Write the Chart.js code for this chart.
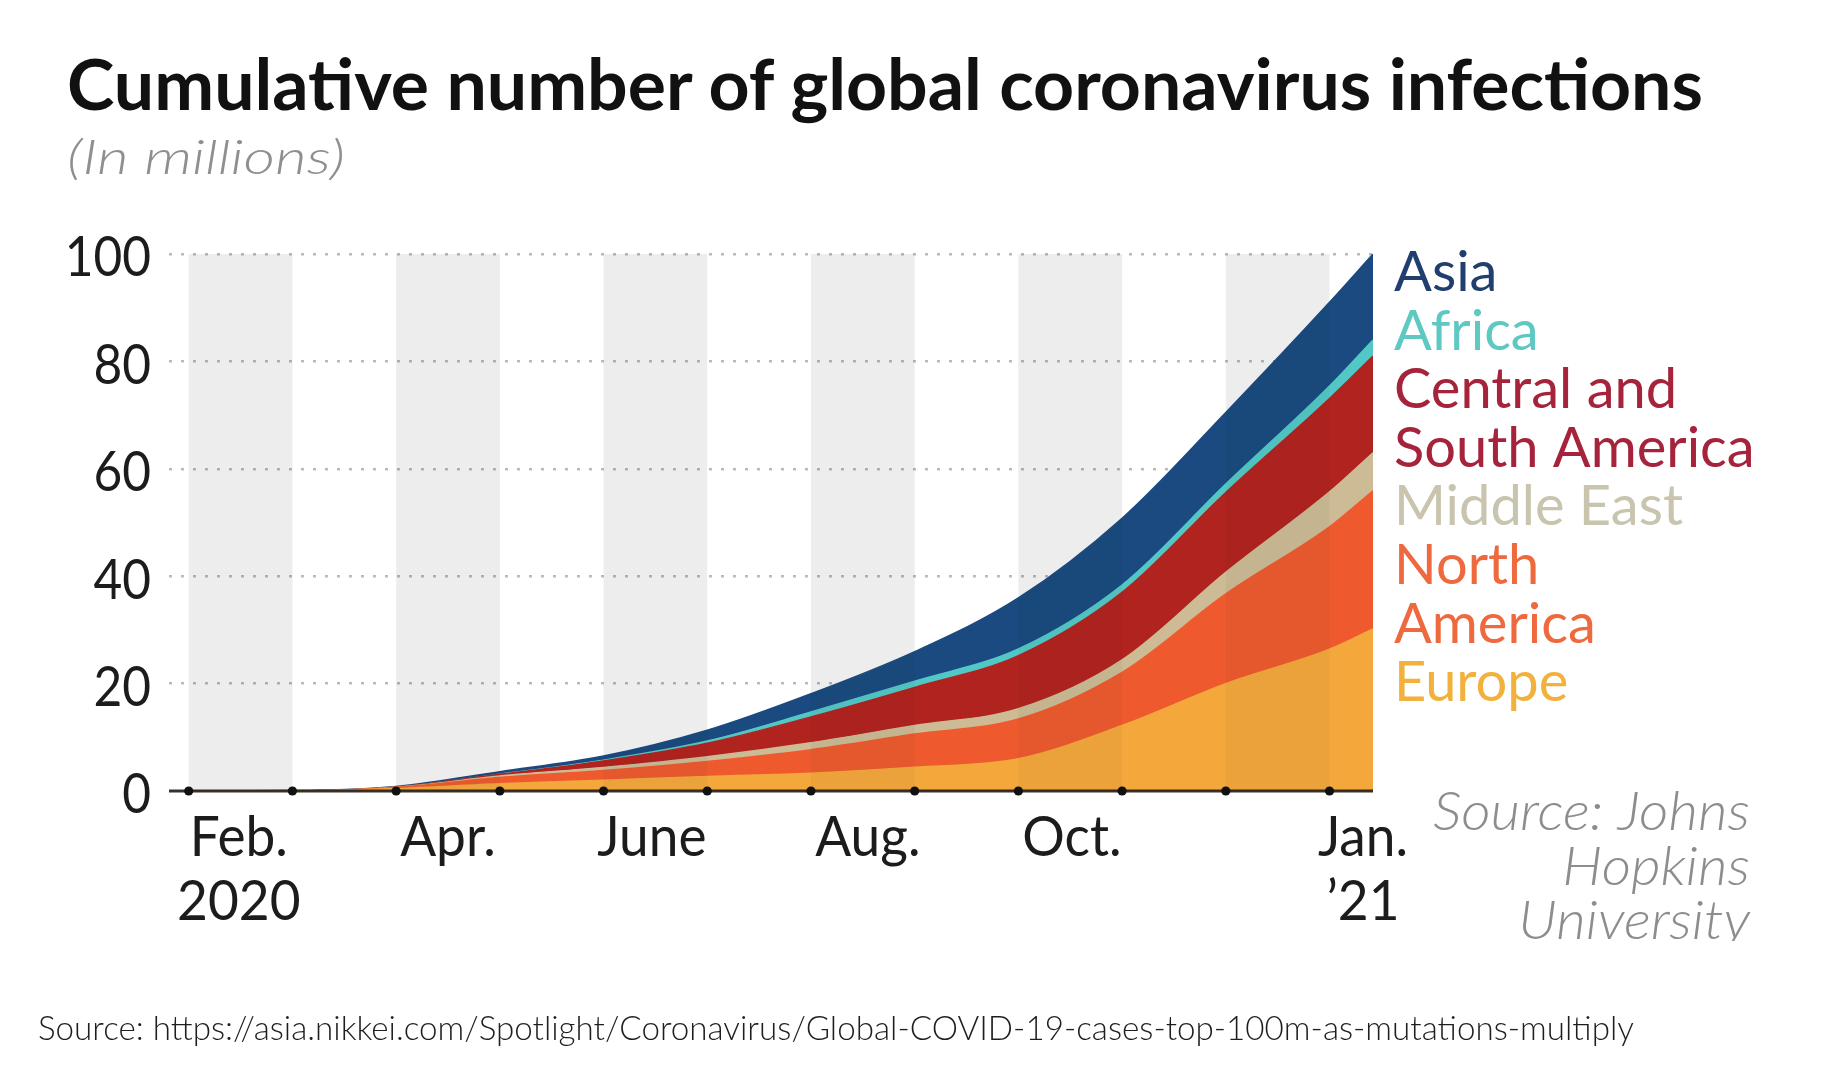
<!DOCTYPE html>
<html>
<head>
<meta charset="utf-8">
<script src="https://cdn.jsdelivr.net/npm/chart.js@4.4.1/dist/chart.umd.min.js"></script>
<style>
  html, body { margin: 0; padding: 0; background: #fff; }
  body { width: 1827px; height: 1080px; position: relative; overflow: hidden; font-family: Lato, 'Open Sans', sans-serif; }
  #chart { position: absolute; left: 0; top: 0; }
  .txt { position: absolute; line-height: 1; white-space: nowrap; transform-origin: 0 0; }
  .title { left: 67px; top: 48px; font-size: 70px; font-weight: 700; color: #111; }
  .subtitle { left: 67px; top: 132px; font-size: 48px; font-weight: 300; font-style: italic; color: #8f8f8f; }
  .footnote { left: 38px; top: 1010px; font-size: 34px; font-weight: 300; color: #1e1e1e; }
</style>
</head>
<body>
<canvas id="chart" width="1827" height="1080"></canvas>
<div class="txt title" data-w="1636">Cumulative number of global coronavirus infections</div>
<div class="txt subtitle" data-w="278">(In millions)</div>
<div class="txt footnote" data-w="1596">Source: https://asia.nikkei.com/Spotlight/Coronavirus/Global-COVID-19-cases-top-100m-as-mutations-multiply</div>
<script>
(function () {
// ── Data (millions) ─────────────────────────────────────────
const dates = [
  '2020-02-01', '2020-03-01', '2020-04-01', '2020-05-01', '2020-06-01', '2020-07-01', '2020-08-01',
  '2020-09-01', '2020-10-01', '2020-11-01', '2020-12-01', '2021-01-01', '2021-01-14',
];

// one band per region, stacked bottom -> top
const europe              = [0, 0.002, 0.45, 1.35, 2.0, 2.7, 3.3, 4.4, 6.0, 12.2, 20.0, 26.4, 30.2];
const northAmerica        = [0, 0.001, 0.2, 1.15, 1.8, 2.8, 4.4, 6.2, 7.4, 9.9, 16.7, 22.8, 25.7];
const middleEast          = [0, 0.002, 0.06, 0.3, 0.6, 0.9, 1.3, 1.6, 1.9, 2.3, 4.0, 6.5, 7.1];
const centralSouthAmerica = [0, 0, 0.02, 0.3, 1.2, 2.5, 4.8, 7.1, 9.9, 12.6, 14.9, 17.4, 18.0];
const africa              = [0, 0, 0.01, 0.04, 0.15, 0.4, 0.9, 1.15, 1.25, 1.35, 1.55, 2.3, 3.0];
const asia                = [0.01, 0.085, 0.12, 0.46, 0.75, 2.0, 3.4, 5.5, 9.5, 12.45, 13.35, 15.6, 16.0];

const yTicks = [0, 20, 40, 60, 80, 100];
const monthStarts = [
  '2020-02-01', '2020-03-01', '2020-04-01', '2020-05-01', '2020-06-01', '2020-07-01',
  '2020-08-01', '2020-09-01', '2020-10-01', '2020-11-01', '2020-12-01', '2021-01-01',
];
const xLabels     = [['Feb.', '2020'], ['Apr.'], ['June'], ['Aug.'], ['Oct.'], ['Jan.', '\u201921']];
const xLabelDates = ['2020-02-15', '2020-04-16', '2020-06-15', '2020-08-18', '2020-10-17', '2021-01-11'];

const legendNames  = [['Asia'], ['Africa'], ['Central and', 'South America'], ['Middle East'], ['North', 'America'], ['Europe']];
const legendColors = ['#203f6e', '#5ec8c2', '#a6233c', '#c8c4ae', '#ee6a3e', '#f1b13c'];
const sourceLines  = ['Source: Johns', 'Hopkins', 'University'];

// ── Styles ──────────────────────────────────────────────────
const FONT = 'Lato, "Open Sans", sans-serif';
const SERIES = [
  { label: 'Europe',                    data: europe,              color: '#f4a83c' },
  { label: 'North America',             data: northAmerica,        color: '#ee5a2e' },
  { label: 'Middle East',               data: middleEast,          color: '#cdbb95' },
  { label: 'Central and South America', data: centralSouthAmerica, color: '#b1231f' },
  { label: 'Africa',                    data: africa,              color: '#52c8c6' },
  { label: 'Asia',                      data: asia,                color: '#1a4a80' },
];

// month offset from Feb 1 2020 (one unit per month)
function monthPos(s) {
  const [Y, M, D] = s.split('-').map(Number);
  const dim = new Date(Y, M, 0).getDate();
  return (Y - 2020) * 12 + (M - 2) + (D - 1) / dim;
}

function drawText(ctx, text, x, y, o) {
  ctx.save();
  ctx.font = o.font;
  ctx.fillStyle = o.color;
  ctx.textAlign = 'left';
  ctx.textBaseline = o.baseline || 'alphabetic';
  const sq = o.squeeze || 1;
  const w = ctx.measureText(text).width * sq;
  let x0 = x;
  if (o.align === 'right') x0 = x - w;
  else if (o.align === 'center') x0 = x - w / 2;
  ctx.translate(x0, y);
  ctx.scale(sq, 1);
  ctx.fillText(text, 0, 0);
  ctx.restore();
}

// ── Plugin: shaded months, axis, labels ─────────────────────
const decor = {
  id: 'decor',
  afterDatasetsDraw(chart) {
    const { ctx, scales: { x, y } } = chart;
    const top = y.getPixelForValue(100), bottom = y.getPixelForValue(0);
    ctx.save();
    for (let i = 0; i < monthStarts.length; i += 2) {
      const x0 = x.getPixelForValue(monthPos(monthStarts[i]));
      const x1 = x.getPixelForValue(monthPos(monthStarts[i + 1]));
      // slight darkening of the areas inside shaded months
      ctx.globalCompositeOperation = 'source-atop';
      ctx.fillStyle = 'rgba(0,0,0,0.035)';
      ctx.fillRect(x0, top, x1 - x0, bottom - top);
      // the grey column itself, behind everything
      ctx.globalCompositeOperation = 'destination-over';
      ctx.fillStyle = '#ededed';
      ctx.fillRect(x0, top, x1 - x0, bottom - top);
    }
    ctx.restore();
  },
  afterDraw(chart) {
    const { ctx, chartArea, scales: { x, y } } = chart;
    const y0 = y.getPixelForValue(0);

    // baseline + month dots
    ctx.save();
    ctx.strokeStyle = 'rgba(40,32,25,0.92)';
    ctx.lineWidth = 3;
    ctx.beginPath();
    ctx.moveTo(chartArea.left, y0);
    ctx.lineTo(chartArea.right, y0);
    ctx.stroke();
    ctx.fillStyle = '#111';
    monthStarts.forEach(d => {
      ctx.beginPath();
      ctx.arc(x.getPixelForValue(monthPos(d)), y0, 4.6, 0, Math.PI * 2);
      ctx.fill();
    });
    ctx.restore();

    // y tick labels
    yTicks.forEach(v => {
      drawText(ctx, String(v), 151, y.getPixelForValue(v) + 4,
        { font: `400 57px ${FONT}`, color: '#1c1c1c', align: 'right', baseline: 'middle', squeeze: 0.87 });
    });

    // x labels, centred on their month
    xLabels.forEach((lines, i) => {
      const cx = x.getPixelForValue(monthPos(xLabelDates[i]));
      lines.forEach((t, j) => {
        drawText(ctx, t, cx, 856 + j * 64,
          { font: `400 56px ${FONT}`, color: '#1c1c1c', align: 'center', squeeze: 0.95 });
      });
    });

    // coloured labels at the right
    let line = 0;
    legendNames.forEach((lines, i) => {
      lines.forEach(t => {
        drawText(ctx, t, chartArea.right + 21, 291 + line * 58.6,
          { font: `400 56px ${FONT}`, color: legendColors[i], squeeze: 1.0 });
        line++;
      });
    });

    // data source, bottom line clipped like the original
    ctx.save();
    ctx.beginPath();
    ctx.rect(0, 0, chart.width, 941);
    ctx.clip();
    sourceLines.forEach((t, i) => {
      drawText(ctx, t, 1750, 830 + i * 54.6,
        { font: `italic 300 53px ${FONT}`, color: '#8d8d8d', align: 'right', squeeze: 1.08 });
    });
    ctx.restore();
  },
};

// ── Chart ───────────────────────────────────────────────────
const xs = dates.map(monthPos);

new Chart(document.getElementById('chart'), {
  type: 'line',
  data: {
    datasets: SERIES.map((s, i) => ({
      label: s.label,
      data: s.data.map((v, k) => ({ x: xs[k], y: v })),
      backgroundColor: s.color,
      borderColor: s.color,
      borderWidth: 1.5,
      fill: i === 0 ? 'origin' : '-1',
      pointRadius: 0,
      cubicInterpolationMode: 'monotone',
    })),
  },
  options: {
    responsive: false,
    animation: false,
    events: [],
    layout: { autoPadding: false, padding: { left: 169, top: 254, right: 454, bottom: 289 } },
    plugins: { legend: { display: false }, tooltip: { enabled: false } },
    scales: {
      x: { type: 'linear', display: false, min: -0.19, max: xs[xs.length - 1] },
      y: {
        stacked: true,
        min: 0,
        max: 100,
        z: 1,
        ticks: { display: false, stepSize: 20 },
        grid: {
          drawTicks: false,
          lineWidth: 2.5,
          color: c => (c.tick && c.tick.value === 0 ? 'rgba(0,0,0,0)' : 'rgba(0,0,0,0.27)'),
        },
        border: { display: false, dash: [3, 9] },
      },
    },
  },
  plugins: [decor],
});

// squeeze the HTML texts to the reference widths
document.querySelectorAll('.txt[data-w]').forEach(el => {
  const w = el.getBoundingClientRect().width;
  el.style.transform = `scaleX(${(Number(el.dataset.w) / w).toFixed(4)})`;
});
}());
</script>
</body>
</html>
